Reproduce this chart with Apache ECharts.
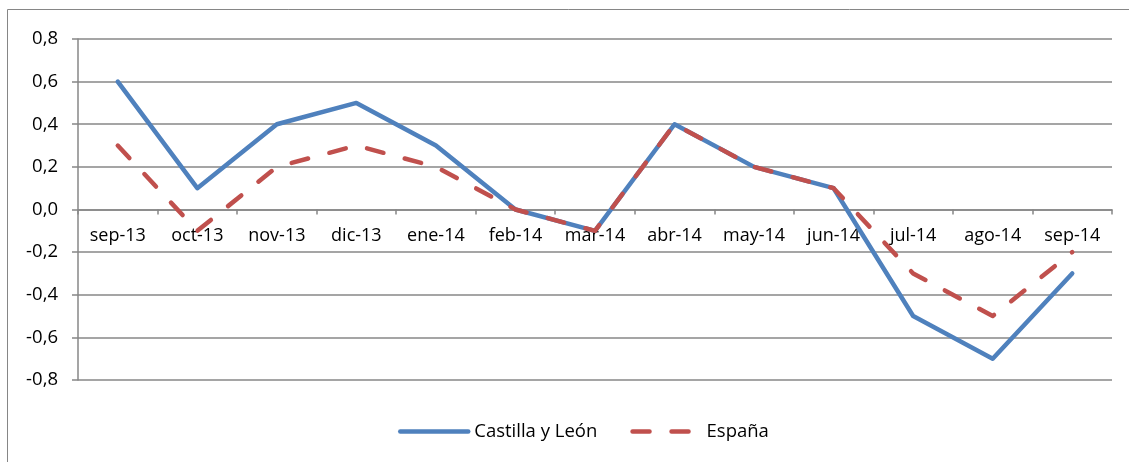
<!DOCTYPE html>
<html>
<head>
<meta charset="utf-8">
<script src="https://cdn.jsdelivr.net/npm/echarts@6/dist/echarts.min.js"></script>
<style>
  html, body { margin: 0; padding: 0; background: #fff; }
  #chart { width: 1129px; height: 462px; }
</style>
</head>
<body>
<div id="chart"></div>
<script>
  const months = ["sep-13", "oct-13", "nov-13", "dic-13", "ene-14", "feb-14", "mar-14",
    "abr-14", "may-14", "jun-14", "jul-14", "ago-14", "sep-14"];
  const castillaLeon = [0.6, 0.1, 0.4, 0.5, 0.3, 0.0, -0.1, 0.4, 0.2, 0.1, -0.5, -0.7, -0.3];
  const espana = [0.3, -0.1, 0.2, 0.3, 0.2, 0.0, -0.1, 0.4, 0.2, 0.1, -0.3, -0.5, -0.2];

  const font = "'Open Sans', 'Liberation Sans', sans-serif";
  const gridColor = "#878787";

  let myChart = echarts.init(document.getElementById("chart"));

  // category axis sits on the zero line: half the grid height above the bottom
  const gridTop = 39, gridBottom = 82;
  const zeroOffset = -(462 - gridTop - gridBottom) / 2;

  const option = {
    backgroundColor: "#fff",
    animation: false,
    textStyle: { fontFamily: font },
    graphic: [
      {
        type: "rect",
        shape: { x: 7.5, y: 9.5, width: 1200, height: 600 },
        style: { fill: "none", stroke: "#868686", lineWidth: 1 },
        silent: true,
      },
    ],
    grid: {
      left: 78,
      right: 17,
      top: gridTop,
      bottom: gridBottom,
    },
    legend: {
      top: 417,
      left: 393,
      itemWidth: 68,
      itemHeight: 10,
      itemGap: 33,
      itemStyle: { opacity: 0 },
      textStyle: { fontFamily: font, fontSize: 18.5, color: "#000", padding: [0, 0, 0, 1] },
      data: [
        { name: "Castilla y León", lineStyle: { width: 4.5 } },
        { name: "España", lineStyle: { width: 4.5, type: [17, 22] } },
      ],
    },
    xAxis: {
      type: "category",
      data: months,
      boundaryGap: true,
      offset: zeroOffset,
      axisLine: { onZero: false, lineStyle: { color: gridColor, width: 1.5 } },
      axisTick: { show: true, length: 5, alignWithLabel: false, lineStyle: { color: gridColor, width: 1.5 } },
      axisLabel: { color: "#000", fontSize: 18, margin: 17, interval: 0, fontFamily: font },
      splitLine: { show: false },
    },
    yAxis: {
      type: "value",
      min: -0.8,
      max: 0.8,
      interval: 0.2,
      axisLine: { show: true, onZero: false, lineStyle: { color: gridColor, width: 1.5 } },
      axisTick: { show: true, length: 6, lineStyle: { color: gridColor, width: 1.5 } },
      axisLabel: {
        color: "#000",
        fontSize: 18.5,
        margin: 20,
        fontFamily: font,
        formatter: (v) => v.toFixed(1).replace(".", ","),
      },
      splitLine: { show: true, lineStyle: { color: gridColor, width: 1.5 } },
    },
    series: [
      {
        name: "Castilla y León",
        type: "line",
        data: castillaLeon,
        symbol: "none",
        lineStyle: { color: "#4F81BD", width: 4.5, cap: "round", join: "round" },
        itemStyle: { color: "#4F81BD" },
      },
      {
        name: "España",
        type: "line",
        data: espana,
        symbol: "none",
        lineStyle: { color: "#C0504D", width: 4.5, type: [17, 22], cap: "round", join: "round" },
        itemStyle: { color: "#C0504D" },
      },
    ],
  };

  myChart.setOption(option);
</script>
</body>
</html>
